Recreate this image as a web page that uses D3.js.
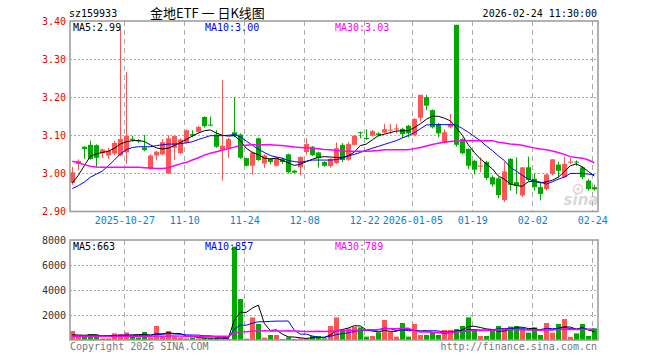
<!DOCTYPE html>
<html>
<head>
<meta charset="utf-8">
<script src="https://cdn.jsdelivr.net/npm/d3@7/dist/d3.min.js"></script>
<style>
  body { margin: 0; background: #fff; }
  svg { display: block; }
</style>
</head>
<body>
<svg id="chart"></svg>
<script>
// size of the picture
var width = 660;
var height = 360;

// ---- data ----
var dates = [
    "2025-10-14", "2025-10-15", "2025-10-16", "2025-10-17", "2025-10-20", "2025-10-21", "2025-10-22", "2025-10-23", "2025-10-24", "2025-10-27", "2025-10-28", "2025-10-29", "2025-10-30", "2025-10-31",
    "2025-11-03", "2025-11-04", "2025-11-05", "2025-11-06", "2025-11-07", "2025-11-10", "2025-11-11", "2025-11-12", "2025-11-13", "2025-11-14", "2025-11-17", "2025-11-18", "2025-11-19", "2025-11-20", "2025-11-21", "2025-11-24", "2025-11-25", "2025-11-26", "2025-11-27", "2025-11-28",
    "2025-12-01", "2025-12-02", "2025-12-03", "2025-12-04", "2025-12-05", "2025-12-08", "2025-12-09", "2025-12-10", "2025-12-11", "2025-12-12", "2025-12-15", "2025-12-16", "2025-12-17", "2025-12-18", "2025-12-19", "2025-12-22", "2025-12-23", "2025-12-24", "2025-12-25", "2025-12-26", "2025-12-29", "2025-12-30", "2025-12-31",
    "2026-01-05", "2026-01-06", "2026-01-07", "2026-01-08", "2026-01-09", "2026-01-12", "2026-01-13", "2026-01-14", "2026-01-15", "2026-01-16", "2026-01-19", "2026-01-20", "2026-01-21", "2026-01-22", "2026-01-23", "2026-01-26", "2026-01-27", "2026-01-28", "2026-01-29", "2026-01-30",
    "2026-02-02", "2026-02-03", "2026-02-04", "2026-02-05", "2026-02-06", "2026-02-09", "2026-02-10", "2026-02-11", "2026-02-12", "2026-02-13", "2026-02-24"
];

var openP = [
    2.975, 3.025, 3.07, 3.075, 3.074, 3.053, 3.047, 3.052, 3.047, 3.055,
    3.091, 3.087, 3.068, 3.012, 3.047, 3.05, 3.0, 3.067, 3.053, 3.081,
    3.103, 3.109, 3.148, 3.128, 3.102, 3.062, 3.064, 3.108, 3.102, 3.04,
    3.02, 3.092, 3.026, 3.038, 3.02, 3.038, 3.05, 3.007, 3.016, 3.056,
    3.07, 3.055, 3.03, 3.019, 3.027, 3.075, 3.036, 3.075, 3.108, 3.093,
    3.099, 3.105, 3.107, 3.113, 3.115, 3.117, 3.125, 3.1, 3.146, 3.2,
    3.166, 3.13, 3.08, 3.121, 3.39, 3.09, 3.064, 3.033, 3.018, 3.03,
    2.99, 2.987, 2.93, 3.038, 2.977, 2.942, 3.016, 2.986, 2.964, 2.959,
    2.999, 3.023, 2.99, 3.028, 3.031, 3.016, 2.981, 2.964
];
var highP = [
    3.017, 3.037, 3.071, 3.086, 3.076, 3.065, 3.067, 3.085, 3.38, 3.266,
    3.099, 3.09, 3.101, 3.05, 3.059, 3.09, 3.1, 3.1, 3.092, 3.116,
    3.113, 3.125, 3.15, 3.149, 3.113, 3.245, 3.093, 3.2, 3.105, 3.041,
    3.058, 3.094, 3.05, 3.04, 3.044, 3.042, 3.052, 3.009, 3.045, 3.092,
    3.072, 3.057, 3.032, 3.04, 3.081, 3.08, 3.083, 3.101, 3.11, 3.116,
    3.114, 3.108, 3.13, 3.13, 3.13, 3.12, 3.127, 3.145, 3.207, 3.206,
    3.168, 3.132, 3.116, 3.156, 3.39, 3.092, 3.066, 3.036, 3.042, 3.033,
    2.995, 2.99, 3.03, 3.04, 3.042, 3.016, 3.044, 3.0, 2.974, 2.999,
    3.037, 3.03, 3.044, 3.04, 3.034, 3.018, 2.985, 2.97
];
var lowP = [
    2.97, 3.008, 3.038, 3.036, 3.016, 3.041, 3.038, 3.048, 3.045, 3.025,
    3.083, 3.08, 3.058, 3.01, 3.034, 3.048, 2.998, 3.035, 3.05, 3.079,
    3.095, 3.107, 3.12, 3.124, 3.067, 2.981, 3.041, 3.095, 3.038, 3.018,
    2.997, 3.033, 3.014, 3.024, 3.018, 3.025, 3.0, 3.0, 2.995, 3.049,
    3.046, 3.015, 3.018, 3.015, 3.025, 3.03, 3.033, 3.073, 3.092, 3.088,
    3.097, 3.097, 3.105, 3.103, 3.105, 3.093, 3.095, 3.097, 3.136, 3.166,
    3.118, 3.095, 3.078, 3.118, 3.07, 3.05, 3.012, 2.997, 3.003, 2.983,
    2.965, 2.935, 2.925, 2.955, 2.946, 2.938, 2.98, 2.955, 2.929, 2.955,
    2.995, 2.99, 2.988, 3.025, 3.02, 2.985, 2.955, 2.955
];
var closeP = [
    3.003, 3.033, 3.064, 3.038, 3.041, 3.063, 3.06, 3.08, 3.09, 3.099,
    3.088, 3.085, 3.061, 3.047, 3.057, 3.082, 3.092, 3.098, 3.089, 3.113,
    3.099, 3.122, 3.124, 3.126, 3.07, 3.073, 3.09, 3.098, 3.041, 3.02,
    3.055, 3.035, 3.047, 3.03, 3.041, 3.03, 3.003, 3.002, 3.043, 3.077,
    3.048, 3.04, 3.02, 3.038, 3.066, 3.035, 3.077, 3.099, 3.106, 3.091,
    3.111, 3.1, 3.116, 3.115, 3.118, 3.103, 3.105, 3.143, 3.206, 3.178,
    3.121, 3.105, 3.108, 3.127, 3.075, 3.053, 3.02, 3.01, 3.021, 2.988,
    2.971, 2.943, 3.005, 2.97, 2.968, 3.016, 2.983, 2.964, 2.946, 2.997,
    3.037, 3.007, 3.025, 3.031, 3.029, 2.99, 2.959, 2.958
];

// price moving averages as drawn
var ma5 = [
    2.975, 2.995, 3.02, 3.045, 3.051, 3.055, 3.058, 3.066, 3.077, 3.083,
    3.086, 3.086, 3.084, 3.075, 3.067, 3.064, 3.066, 3.073, 3.081, 3.089,
    3.098, 3.106, 3.112, 3.114, 3.106, 3.1, 3.098, 3.099, 3.086, 3.066,
    3.055, 3.049, 3.04, 3.038, 3.04, 3.034, 3.028, 3.021, 3.024, 3.031,
    3.037, 3.042, 3.044, 3.043, 3.042, 3.042, 3.046, 3.056, 3.073, 3.077,
    3.088, 3.099, 3.103, 3.107, 3.111, 3.112, 3.112, 3.12, 3.13, 3.142,
    3.15, 3.15, 3.145, 3.138, 3.12, 3.1, 3.075, 3.055, 3.038, 3.025,
    3.012, 2.993, 2.985, 2.972, 2.968, 2.966, 2.978, 2.98, 2.975, 2.978,
    2.982, 2.99, 3.005, 3.02, 3.025, 3.017, 3.005, 2.993
];
var ma10 = [
    2.96, 2.968, 2.977, 2.99, 2.998, 3.006, 3.02, 3.035, 3.051, 3.062,
    3.068, 3.07, 3.07, 3.07, 3.073, 3.075, 3.077, 3.077, 3.078, 3.08,
    3.083, 3.089, 3.094, 3.099, 3.099, 3.099, 3.1, 3.102, 3.096, 3.085,
    3.074, 3.063, 3.055, 3.047, 3.043, 3.04, 3.034, 3.031, 3.029, 3.032,
    3.035, 3.035, 3.035, 3.035, 3.036, 3.04, 3.046, 3.05, 3.055, 3.061,
    3.066, 3.071, 3.076, 3.081, 3.086, 3.093, 3.099, 3.107, 3.117, 3.127,
    3.128, 3.128, 3.128, 3.128, 3.127, 3.118, 3.108, 3.097, 3.086, 3.072,
    3.06, 3.046, 3.034, 3.016, 3.006, 2.995, 2.985, 2.98, 2.977, 2.972,
    2.978, 2.985, 2.99, 3.0, 3.0, 3.0, 2.998, 2.997
];
var ma30 = [
    3.032, 3.028, 3.023, 3.019, 3.017, 3.016, 3.016, 3.016, 3.016, 3.016,
    3.016, 3.016, 3.015, 3.014, 3.013, 3.013, 3.015, 3.02, 3.025, 3.029,
    3.035, 3.041, 3.048, 3.053, 3.057, 3.061, 3.065, 3.069, 3.073, 3.074,
    3.075, 3.075, 3.075, 3.075, 3.074, 3.073, 3.071, 3.069, 3.068, 3.067,
    3.066, 3.065, 3.063, 3.062, 3.06, 3.059, 3.058, 3.058, 3.058, 3.058,
    3.059, 3.06, 3.062, 3.062, 3.062, 3.062, 3.062, 3.065, 3.068, 3.072,
    3.076, 3.079, 3.082, 3.084, 3.085, 3.086, 3.086, 3.086, 3.086, 3.086,
    3.086, 3.082, 3.08, 3.077, 3.076, 3.074, 3.07, 3.067, 3.064, 3.062,
    3.059, 3.055, 3.05, 3.044, 3.042, 3.04, 3.035, 3.028
];

// volume (hands) and its moving averages
var volume = [
    720, 270, 270, 480, 400, 130, 130, 530, 480, 610,
    320, 210, 640, 210, 1120, 270, 720, 270, 210, 130,
    210, 130, 150, 150, 150, 100, 100, 7470, 3280, 100,
    1810, 1280, 190, 400, 400, 80, 210, 80, 130, 130,
    320, 320, 130, 1120, 1810, 800, 930, 1070, 1010, 270,
    320, 610, 1600, 670, 270, 1360, 270, 1280, 400, 400,
    610, 400, 800, 800, 880, 1120, 1810, 880, 320, 320,
    880, 1120, 930, 1070, 1120, 880, 590, 1010, 400, 1360,
    590, 1280, 1680, 250, 530, 1280, 320, 930
];
var volMa5 = [
    420, 400, 380, 410, 428, 310, 282, 334, 334, 376,
    414, 430, 452, 398, 500, 490, 592, 518, 518, 320,
    308, 190, 166, 154, 158, 136, 130, 1594, 2220, 2210,
    2552, 2788, 1332, 756, 816, 470, 256, 234, 180, 126,
    174, 196, 206, 404, 740, 836, 958, 1146, 1124, 816,
    720, 656, 762, 694, 694, 902, 834, 770, 716, 742,
    592, 618, 522, 602, 698, 800, 1082, 1098, 1002, 890,
    842, 704, 714, 864, 1024, 1024, 918, 934, 800, 848,
    790, 928, 1062, 1032, 866, 1004, 812, 662
];
var volMa10 = [
    330, 330, 335, 340, 345, 350, 360, 370, 385, 402,
    362, 356, 393, 366, 438, 452, 511, 485, 458, 410,
    399, 391, 342, 336, 239, 222, 160, 880, 1187, 1184,
    1344, 1459, 1463, 1488, 1513, 1511, 1522, 783, 468, 471,
    322, 226, 220, 292, 433, 505, 577, 676, 764, 778,
    778, 807, 954, 909, 755, 811, 745, 766, 705, 718,
    747, 726, 646, 659, 720, 696, 850, 810, 802, 794,
    821, 893, 906, 933, 957, 933, 811, 824, 832, 936,
    907, 923, 998, 916, 857, 897, 870, 862
];
var volMa30 = [
    300, 300, 300, 300, 295, 295, 290, 290, 295, 300,
    300, 300, 305, 305, 310, 310, 315, 315, 310, 305,
    300, 300, 300, 300, 295, 295, 295, 545, 650, 665,
    702, 735, 733, 730, 730, 728, 731, 716, 704, 688,
    688, 692, 675, 705, 728, 746, 753, 780, 806, 811,
    815, 831, 879, 896, 900, 942, 948, 742, 646, 656,
    616, 586, 607, 620, 636, 671, 724, 751, 757, 763,
    782, 809, 835, 834, 811, 813, 802, 800, 780, 816,
    825, 847, 850, 836, 845, 842, 844, 832
];

// ticks and labels
var priceTicks = [2.9, 3.0, 3.1, 3.2, 3.3, 3.4];
var volumeTicks = [2000, 4000, 6000, 8000];
var dateTicks = ["2025-10-27", "2025-11-10", "2025-11-24", "2025-12-08", "2025-12-22", "2026-01-05", "2026-01-19", "2026-02-02", "2026-02-24"];
var dateTickLabels = ["2025-10-27", "11-10", "11-24", "12-08", "12-22", "2026-01-05", "01-19", "02-02", "02-24"];
var priceMaLabels = ["MA5:2.99", "MA10:3.00", "MA30:3.03"];
var volumeMaLabels = ["MA5:663", "MA10:857", "MA30:789"];
var maColors = ["#000000", "#0000ff", "#ff00ff"];

var upColor = "#ff5555";
var downColor = "#00a800";
var gridColor = "#aaaaaa";
var mono = "'DejaVu Sans Mono', 'Liberation Mono', monospace";

var svg = d3.select("#chart")
    .attr("width", width)
    .attr("height", height);

// plot areas
var left = 70, right = 598;
var priceTop = 21, priceBottom = 211.5;
var volTop = 240, volBottom = 340;

// scales
var x = d3.scaleBand()
    .domain(dates)
    .range([left - 0.7, right - 0.7])
    .padding(0);
var cx = (d) => x(d) + x.bandwidth() / 2;

var yPrice = d3.scaleLinear().domain([2.9, 3.4]).range([priceBottom, priceTop]);
var yVol = d3.scaleLinear().domain([0, 8000]).range([volBottom, volTop]);

// header texts
svg.append("text")
    .attr("x", 69).attr("y", 17)
    .style("font-family", mono).style("font-size", "10px")
    .attr("fill", "#000")
    .text("sz159933");

svg.append("text")
    .attr("x", 150).attr("y", 18)
    .style("font-family", "'Noto Sans CJK SC', sans-serif").style("font-size", "13px")
    .attr("fill", "#000")
    .text("金地ETF 一 日K线图");

svg.append("text")
    .attr("x", 597).attr("y", 17)
    .attr("text-anchor", "end")
    .style("font-family", mono).style("font-size", "10px")
    .attr("fill", "#000")
    .text("2026-02-24 11:30:00");

// grids
var grid = svg.append("g");

grid.selectAll("line.hp")
    .data(priceTicks.slice(1, -1))
    .enter().append("line")
    .attr("x1", left).attr("x2", right)
    .attr("y1", (d) => Math.round(yPrice(d)) + 0.5)
    .attr("y2", (d) => Math.round(yPrice(d)) + 0.5)
    .attr("stroke", gridColor)
    .attr("stroke-dasharray", "2,2");

grid.selectAll("line.hv")
    .data(volumeTicks.slice(0, -1))
    .enter().append("line")
    .attr("x1", left).attr("x2", right)
    .attr("y1", (d) => Math.round(yVol(d)) + 0.5)
    .attr("y2", (d) => Math.round(yVol(d)) + 0.5)
    .attr("stroke", gridColor)
    .attr("stroke-dasharray", "2,2");

// vertical dashed lines in both panels
[[priceTop, priceBottom], [volTop, volBottom]].forEach(function (p) {
    grid.append("g").selectAll("line")
        .data(dateTicks)
        .enter().append("line")
        .attr("x1", (d) => Math.round(x(d) + 1) + 0.5)
        .attr("x2", (d) => Math.round(x(d) + 1) + 0.5)
        .attr("y1", p[0]).attr("y2", p[1])
        .attr("stroke", gridColor)
        .attr("stroke-dasharray", "5,4");
});

// sina watermark
var wm = svg.append("g").attr("opacity", 0.55);
wm.append("circle").attr("cx", 578).attr("cy", 189).attr("r", 4.5)
    .attr("fill", "none").attr("stroke", "#e8a0a0").attr("stroke-width", 1.5);
wm.append("circle").attr("cx", 578).attr("cy", 189).attr("r", 1.6).attr("fill", "#e8a0a0");
wm.append("text")
    .attr("x", 581).attr("y", 205)
    .attr("text-anchor", "middle")
    .style("font-family", "'DejaVu Sans', sans-serif")
    .style("font-size", "15px").style("font-style", "italic").style("font-weight", "bold")
    .attr("fill", "#bbbbbb")
    .text("sina");

// candles
var candles = svg.append("g");
var candleData = dates.map((d, i) => ({ date: d, o: openP[i], h: highP[i], l: lowP[i], c: closeP[i] }));

candles.selectAll("line")
    .data(candleData)
    .enter().append("line")
    .attr("x1", (d) => Math.round(cx(d.date)) + 0.5)
    .attr("x2", (d) => Math.round(cx(d.date)) + 0.5)
    .attr("y1", (d) => yPrice(d.h))
    .attr("y2", (d) => yPrice(d.l))
    .attr("stroke", (d) => (d.c >= d.o ? upColor : downColor))
    .attr("stroke-width", 1);

candles.selectAll("rect")
    .data(candleData)
    .enter().append("rect")
    .attr("x", (d) => Math.round(cx(d.date)) - 2)
    .attr("width", 5)
    .attr("y", (d) => yPrice(Math.max(d.o, d.c)))
    .attr("height", (d) => Math.max(1, Math.abs(yPrice(d.o) - yPrice(d.c))))
    .attr("fill", (d) => (d.c >= d.o ? upColor : downColor));

// price moving average lines
var priceLine = d3.line()
    .x((d, i) => cx(dates[i]))
    .y((d) => yPrice(d));

[ma5, ma10, ma30].forEach(function (s, k) {
    svg.append("path")
        .datum(s)
        .attr("fill", "none")
        .attr("stroke", maColors[k])
        .attr("stroke-width", k == 2 ? 1.5 : 1)
        .attr("d", priceLine);
});

// volume bars
svg.append("g").selectAll("rect")
    .data(volume)
    .enter().append("rect")
    .attr("x", (d, i) => Math.round(cx(dates[i])) - 2)
    .attr("width", 5)
    .attr("y", (d) => yVol(d))
    .attr("height", (d) => volBottom - yVol(d))
    .attr("fill", (d, i) => (closeP[i] >= openP[i] ? upColor : downColor));

// volume moving average lines
var volLine = d3.line()
    .x((d, i) => cx(dates[i]))
    .y((d) => yVol(d));

[volMa5, volMa10, volMa30].forEach(function (s, k) {
    svg.append("path")
        .datum(s)
        .attr("fill", "none")
        .attr("stroke", maColors[k])
        .attr("stroke-width", k == 2 ? 1.5 : 1)
        .attr("d", volLine);
});

// frames
[[priceTop, priceBottom], [volTop, volBottom]].forEach(function (p) {
    svg.append("rect")
        .attr("x", left).attr("y", p[0])
        .attr("width", right - left).attr("height", p[1] - p[0])
        .attr("fill", "none")
        .attr("stroke", "#999")
        .attr("stroke-width", 1.5);
});

// price axis labels
var priceAxis = svg.append("g")
    .attr("transform", "translate(" + left + ",0)")
    .call(d3.axisLeft(yPrice).tickValues(priceTicks).tickFormat(d3.format(".2f")).tickSize(0).tickPadding(4));
priceAxis.select(".domain").remove();
priceAxis.selectAll("text")
    .style("font-family", mono).style("font-size", "10px")
    .attr("fill", "#ee0000");

// volume axis labels
var volAxis = svg.append("g")
    .attr("transform", "translate(" + left + ",0)")
    .call(d3.axisLeft(yVol).tickValues(volumeTicks).tickFormat(d3.format("d")).tickSize(0).tickPadding(4));
volAxis.select(".domain").remove();
volAxis.selectAll("text")
    .style("font-family", mono).style("font-size", "10px")
    .attr("fill", "#333");

// date axis labels
var dateAxis = svg.append("g")
    .attr("transform", "translate(1," + priceBottom + ")")
    .call(d3.axisBottom(x).tickValues(dateTicks)
        .tickFormat((d, i) => dateTickLabels[i]).tickSize(0).tickPadding(5));
dateAxis.select(".domain").remove();
dateAxis.selectAll(".tick").attr("transform", (d) => "translate(" + (x(d) + 0.5) + ",0)");
dateAxis.selectAll("text")
    .style("font-family", mono).style("font-size", "10px")
    .attr("fill", "#0a7fd2");

// moving average legends
var legendX = [73, 205, 335];
priceMaLabels.forEach(function (t, k) {
    svg.append("text")
        .attr("x", legendX[k]).attr("y", 31)
        .style("font-family", mono).style("font-size", "10px")
        .attr("fill", maColors[k])
        .text(t);
});
volumeMaLabels.forEach(function (t, k) {
    svg.append("text")
        .attr("x", legendX[k]).attr("y", 250)
        .style("font-family", mono).style("font-size", "10px")
        .attr("fill", maColors[k])
        .text(t);
});

// footer
svg.append("text")
    .attr("x", 70).attr("y", 350)
    .style("font-family", mono).style("font-size", "10px")
    .attr("fill", "#777")
    .text("Copyright 2026 SINA.COM");
svg.append("text")
    .attr("x", 597).attr("y", 350)
    .attr("text-anchor", "end")
    .style("font-family", mono).style("font-size", "10px")
    .attr("fill", "#777")
    .text("http://finance.sina.com.cn");
</script>
</body>
</html>
